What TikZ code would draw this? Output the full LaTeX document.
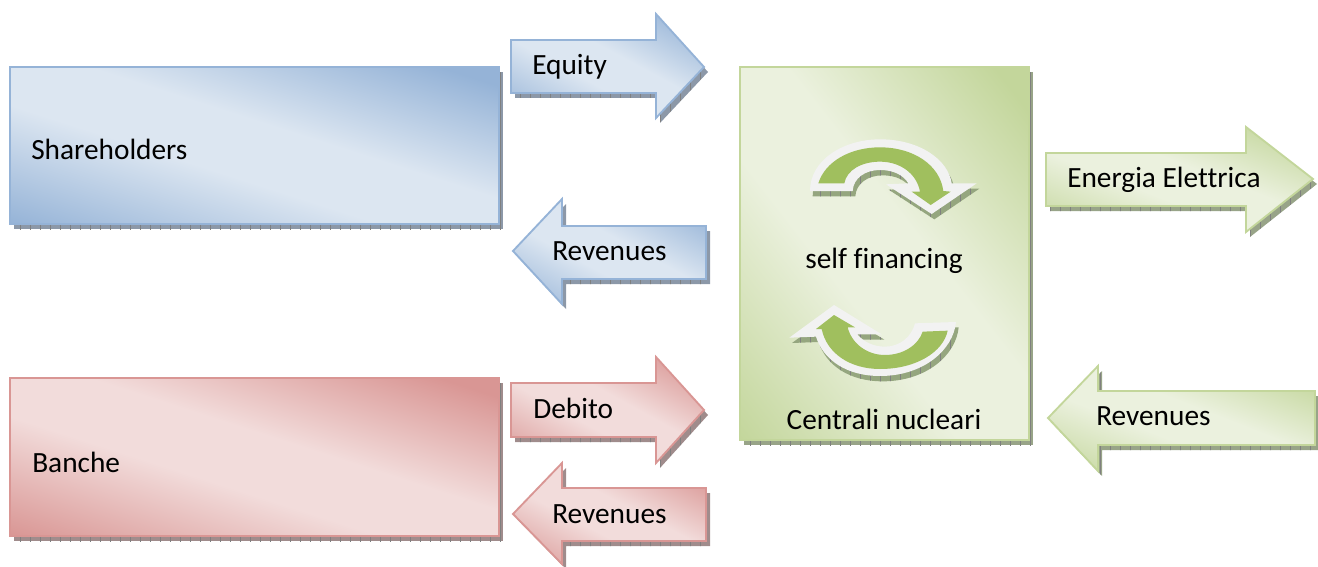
\documentclass[tikz,border=0pt]{standalone}
\usepackage{fontspec}
\setmainfont[Ligatures=NoCommon]{Carlito}
\usetikzlibrary{patterns.meta}
\definecolor{blueshadow}{HTML}{8C98A8}
\definecolor{redshadow}{HTML}{A08C8C}
\definecolor{greenshadow}{HTML}{98A488}
\definecolor{bluedark}{HTML}{95B3D7}
\definecolor{reddark}{HTML}{D99694}
\definecolor{greendark}{HTML}{C3D69B}
\definecolor{cyclegreen}{HTML}{A0BF5E}
\definecolor{cyclewhite}{HTML}{F2F2F2}
\definecolor{cycleshadow}{HTML}{95A67F}
\pgfdeclarehorizontalshading{bluegrad}{100bp}{rgb(0bp)=(0.584,0.702,0.843);rgb(25bp)=(0.584,0.702,0.843);rgb(44bp)=(0.863,0.902,0.945);rgb(54bp)=(0.863,0.902,0.945);rgb(72bp)=(0.584,0.702,0.843);rgb(100bp)=(0.584,0.702,0.843)}
\pgfdeclarehorizontalshading{redgrad}{100bp}{rgb(0bp)=(0.851,0.588,0.580);rgb(25bp)=(0.851,0.588,0.580);rgb(44bp)=(0.949,0.863,0.859);rgb(54bp)=(0.949,0.863,0.859);rgb(72bp)=(0.851,0.588,0.580);rgb(100bp)=(0.851,0.588,0.580)}
\pgfdeclarehorizontalshading{greengrad}{100bp}{rgb(0bp)=(0.765,0.839,0.608);rgb(25bp)=(0.765,0.839,0.608);rgb(44bp)=(0.922,0.945,0.871);rgb(54bp)=(0.922,0.945,0.871);rgb(72bp)=(0.765,0.839,0.608);rgb(100bp)=(0.765,0.839,0.608)}
\tikzset{
  x=0.75pt,y=-0.75pt,
  hatch/.style={pattern={Lines[angle=90,distance=7.5pt,line width=0.3pt]},pattern color=black!50},
  label/.style={font=\fontsize{22}{26}\selectfont,text=black,inner sep=0pt},
}
% #1 shadow colour, #2 gradient, #3 border colour, #4 path, #5-#8 bounding box x0,y0,x1,y1 in px
\newcommand{\shadowed}[8]{%
  \fill[#1,shift={(4,5)}] #4;
  \fill[hatch,shift={(4,5)}] #4;
  \begin{scope}
    \clip #4;
    \pgfmathsetmacro{\pw}{(#7-#5)*0.075}
    \pgfmathsetmacro{\ph}{(#8-#6)*0.075}
    \pgfmathsetmacro{\ox}{#5-0.5*(#7-#5)}
    \pgfmathsetmacro{\oy}{#8-0.5*(#8-#6)}
    \shade[shading=#2,transform canvas={cm={\pw,\ph,\pw,-\ph,(\ox,\oy)}}] (0pt,0pt) rectangle (10pt,10pt);
  \end{scope}
  \draw[#3,line width=1.4pt,line join=miter] #4;
}
\begin{document}
\begin{tikzpicture}
\useasboundingbox (0,0) rectangle (1318,567);
% boxes
\shadowed{blueshadow}{bluegrad}{bluedark}{(10,67) rectangle (499,224)}{10}{67}{499}{224}
\shadowed{redshadow}{redgrad}{reddark}{(10,378) rectangle (499,536)}{10}{378}{499}{536}
\shadowed{greenshadow}{greengrad}{greendark}{(740,67) rectangle (1029,440)}{740}{67}{1029}{440}
% arrows
\shadowed{blueshadow}{bluegrad}{bluedark}{(511,40) -- (656,40) -- (656,14) -- (704,67) -- (656,118) -- (656,93) -- (511,93) -- cycle}{511}{14}{704}{118}
\shadowed{blueshadow}{bluegrad}{bluedark}{(706,226) -- (562,226) -- (562,199) -- (513,251) -- (562,304) -- (562,279) -- (706,279) -- cycle}{513}{199}{706}{304}
\shadowed{redshadow}{redgrad}{reddark}{(511,383) -- (656,383) -- (656,357) -- (704,410) -- (656,463) -- (656,437) -- (511,437) -- cycle}{511}{357}{704}{463}
\shadowed{redshadow}{redgrad}{reddark}{(706,488) -- (562,488) -- (562,463) -- (513,514) -- (562,564) -- (562,541) -- (706,541) -- cycle}{513}{463}{706}{564}
\shadowed{greenshadow}{greengrad}{greendark}{(1046,153) -- (1246,153) -- (1246,127) -- (1313,179) -- (1246,232) -- (1246,206) -- (1046,206) -- cycle}{1046}{127}{1313}{232}
\shadowed{greenshadow}{greengrad}{greendark}{(1315,391) -- (1098,391) -- (1098,366) -- (1048,418) -- (1098,471) -- (1098,445) -- (1315,445) -- cycle}{1048}{366}{1315}{471}
% cycle arrow, upper
\begin{scope}[shift={(780,120)},x=0.25pt,y=-0.25pt]
  \def\outerA{(90,213) .. controls (90,120) and (190,58) .. (300,58) .. controls (420,58) and (505,120) .. (515,190) -- (590,190) -- (455,282) -- (318,193) -- (385,190) .. controls (370,165) and (340,150) .. (300,150) .. controls (255,150) and (220,175) .. (218,213) -- cycle}
  \fill[cycleshadow,shift={(8,16)}] \outerA;
  \fill[hatch,shift={(8,16)}] \outerA;
  \fill[cyclewhite] \outerA;
  \fill[cyclegreen] (115,190) .. controls (135,125) and (210,82) .. (300,82) .. controls (400,82) and (480,135) .. (490,213) -- (512,215) -- (452,255) -- (395,215) -- (420,215) .. controls (410,160) and (360,125) .. (300,125) .. controls (245,125) and (200,150) .. (193,190) -- cycle;
\end{scope}
% cycle arrow, lower
\begin{scope}[shift={(780,300)},x=0.25pt,y=-0.25pt]
  \def\outerB{(28,113) -- (162,15) -- (305,103) -- (232,103) .. controls (250,125) and (280,140) .. (315,140) .. controls (360,140) and (395,110) .. (405,70) -- (528,66) .. controls (520,150) and (430,228) .. (300,228) .. controls (200,228) and (130,180) .. (108,110) -- cycle}
  \fill[cycleshadow,shift={(8,16)}] \outerB;
  \fill[hatch,shift={(8,16)}] \outerB;
  \fill[cyclewhite] \outerB;
  \fill[cyclegreen] (108,87) -- (162,45) -- (225,82) -- (203,82) .. controls (215,130) and (260,165) .. (315,165) .. controls (370,165) and (415,135) .. (428,95) -- (503,92) .. controls (490,155) and (410,207) .. (300,207) .. controls (210,207) and (140,160) .. (125,87) -- cycle;
\end{scope}
% labels
\node[label,anchor=base west] (shareholders) at (31,159) {Shareholders};
\node[label,anchor=base west] (banche) at (32,472) {Banche};
\node[label,anchor=base west] (equity) at (532,75) {Equity};
\node[label,anchor=base west] (revA) at (552,260) {Revenues};
\node[label,anchor=base west] (debito) at (533,418) {Debito};
\node[label,anchor=base west] (revB) at (552,523) {Revenues};
\node[label,anchor=base] (selff) at (884,268) {self financing};
\node[label,anchor=base] (centrali) at (884,429) {Centrali nucleari};
\node[label,anchor=base west] (energia) at (1067,187) {Energia Elettrica};
\node[label,anchor=base west] (revC) at (1096,425) {Revenues};
\end{tikzpicture}
\end{document}
